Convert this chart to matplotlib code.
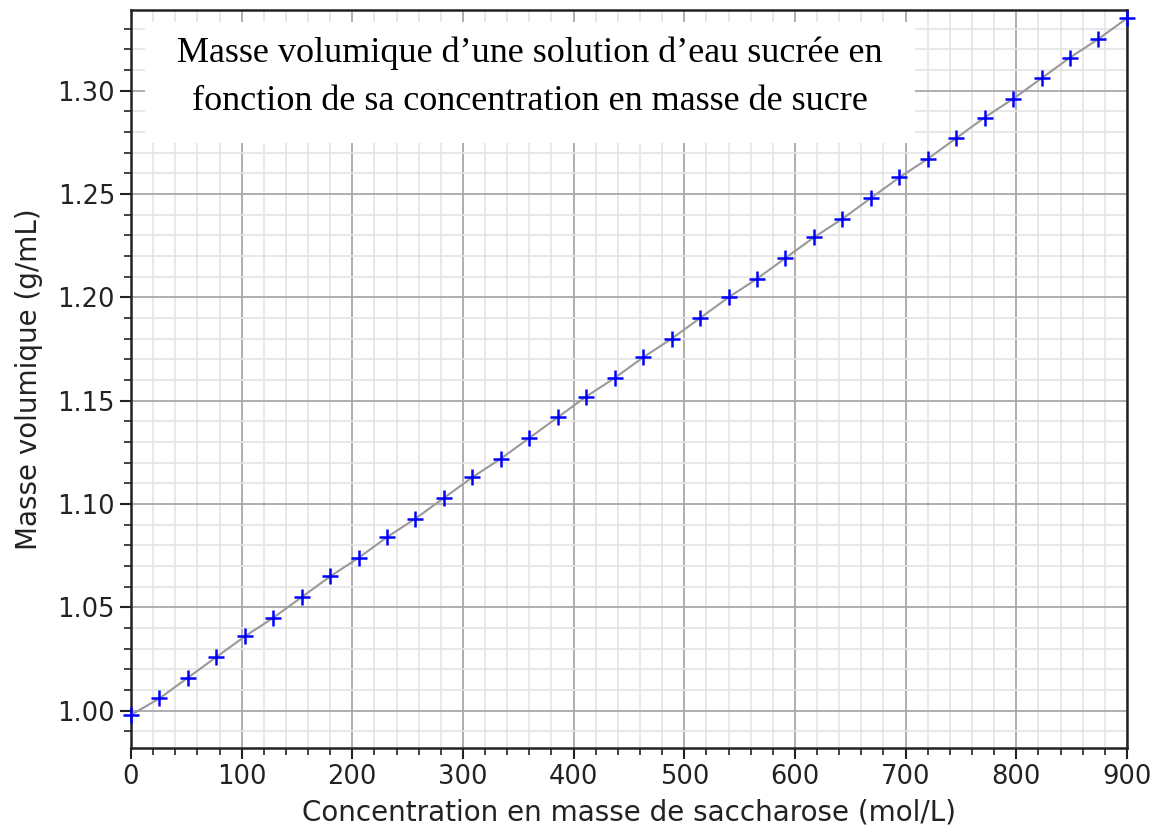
import numpy as np
import matplotlib
matplotlib.use('Agg')
import matplotlib.pyplot as plt
from matplotlib.ticker import MultipleLocator
from matplotlib.patches import Rectangle

plt.rcParams['font.family'] = 'DejaVu Sans'

# concentration en masse (g/L) et masse volumique (g/mL)
concentration = [0, 25.7, 51.4, 77.1, 102.9, 128.6, 154.3, 180.0, 205.7, 231.4,
                 257.1, 282.9, 308.6, 334.3, 360.0, 385.7, 411.4, 437.1, 462.9, 488.6,
                 514.3, 540.0, 565.7, 591.4, 617.1, 642.9, 668.6, 694.3, 720.0, 745.7,
                 771.4, 797.1, 822.9, 848.6, 874.3, 900.0]
masse_vol = [0.998, 1.006, 1.016, 1.026, 1.036, 1.045, 1.055, 1.065, 1.074, 1.084,
             1.093, 1.103, 1.113, 1.122, 1.132, 1.142, 1.152, 1.161, 1.171, 1.180,
             1.190, 1.200, 1.209, 1.219, 1.229, 1.238, 1.248, 1.258, 1.267, 1.277,
             1.287, 1.296, 1.306, 1.316, 1.325, 1.335]

titre = "Masse volumique d\u2019une solution d\u2019eau sucrée en\nfonction de sa concentration en masse de sucre"

fig = plt.figure(figsize=(11.57, 8.34), dpi=100)
ax = fig.add_axes([0.1132, 0.1031, 0.8608, 0.8849])

ax.plot(concentration, masse_vol, color='#999999', lw=1.5, zorder=3)
ax.plot(concentration, masse_vol, '+', color='blue', ms=12, mew=1.8, zorder=4,
        clip_on=False)

ax.set_xlim(0, 900)
ax.set_ylim(0.982, 1.339)
ax.xaxis.set_major_locator(MultipleLocator(100))
ax.xaxis.set_minor_locator(MultipleLocator(20))
ax.yaxis.set_major_locator(MultipleLocator(0.05))
ax.yaxis.set_minor_locator(MultipleLocator(0.01))
ax.yaxis.set_major_formatter(matplotlib.ticker.FormatStrFormatter('%.2f'))

ax.grid(which='major', color='#a8a8a8', lw=1.3)
ax.grid(which='minor', color='#e4e4e4', lw=1.2)
ax.set_axisbelow(True)
ax.tick_params(which='major', length=8, width=1.5, labelsize=18.5, colors='#222222')
ax.tick_params(which='minor', length=5, width=1.2, colors='#222222')
for s in ax.spines.values():
    s.set_linewidth(1.8)
    s.set_color('#222222')

ax.set_xlabel('Concentration en masse de saccharose (mol/L)', fontsize=20,
              color='#222222', labelpad=6)
ax.set_ylabel('Masse volumique (g/mL)', fontsize=20, color='#222222', labelpad=10)

ax.add_patch(Rectangle((0.014, 0.82), 0.773, 0.164, transform=ax.transAxes,
                       facecolor='white', edgecolor='none', zorder=2))
ax.text(0.4006, 0.909, titre, transform=ax.transAxes, ha='center', va='center',
        fontsize=26, family='Liberation Serif', linespacing=1.6, zorder=5)

fig.savefig('out.png', dpi=100)
